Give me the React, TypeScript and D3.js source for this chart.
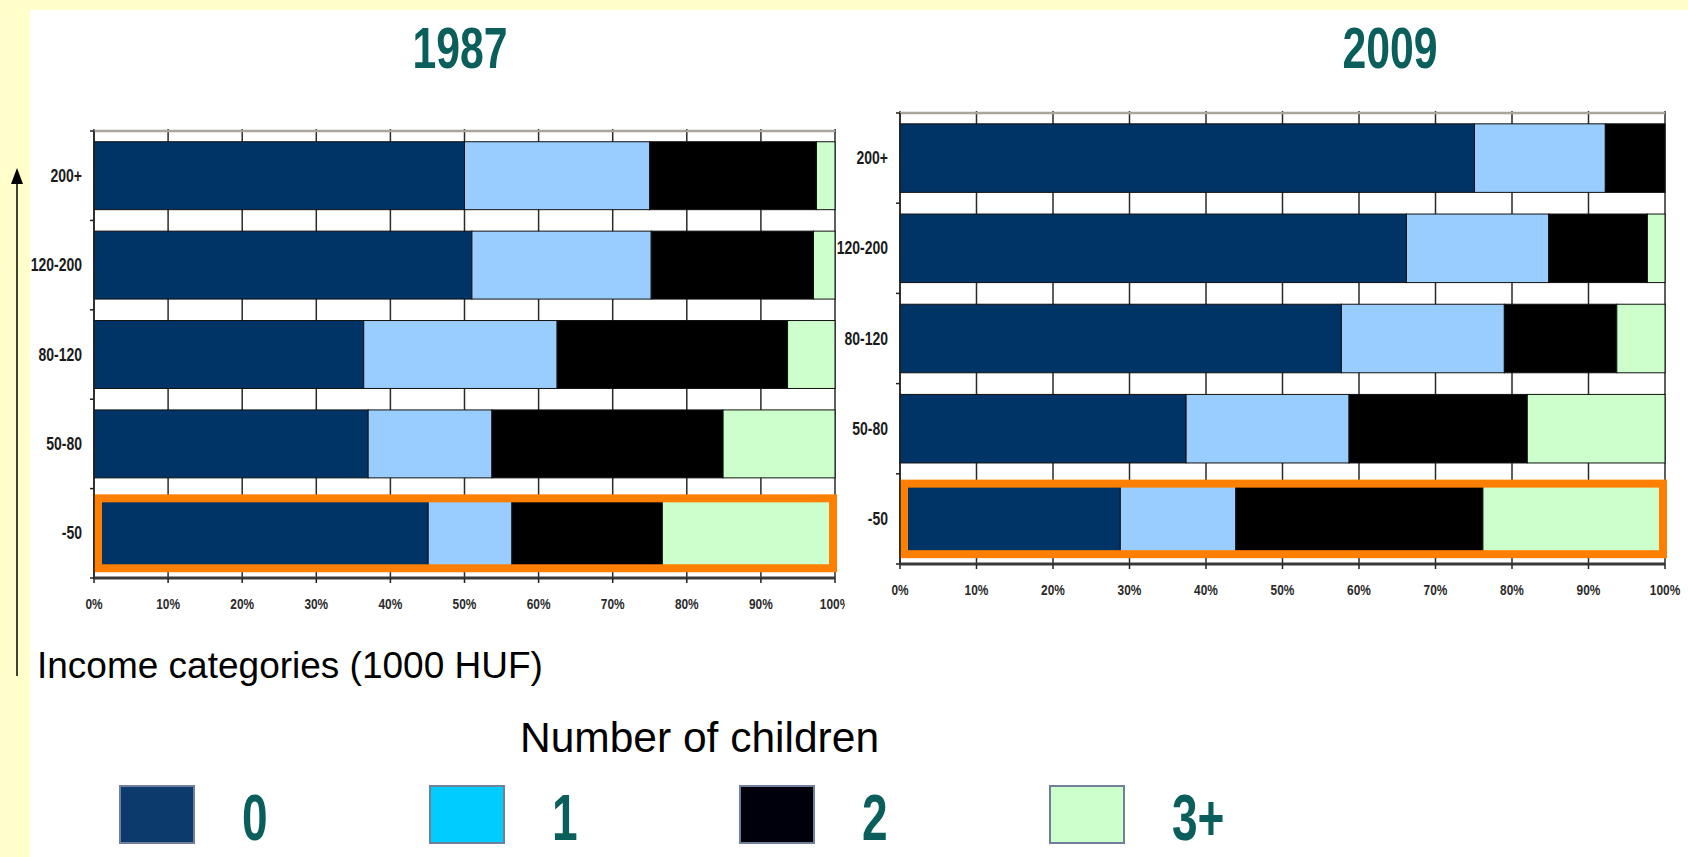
import * as d3 from "d3";

// Income categories (1000 HUF), top to bottom
const incomeCategories = ["200+", "120-200", "80-120", "50-80", "-50"];
// Number of children
const childGroups = ["0", "1", "2", "3+"];
const xTickValues = [0, 10, 20, 30, 40, 50, 60, 70, 80, 90, 100];

// Share of households (%) by number of children, 1987
const share1987_0 = [50, 51, 36.4, 37, 45.1];
const share1987_1 = [25, 24.2, 26.1, 16.7, 11.3];
const share1987_2 = [22.5, 21.9, 31.1, 31.2, 20.3];
const share1987_3 = [2.5, 2.9, 6.4, 15.1, 23.3];

// Share of households (%) by number of children, 2009
const share2009_0 = [75.1, 66.2, 57.7, 37.4, 28.8];
const share2009_1 = [17.1, 18.6, 21.3, 21.3, 15.1];
const share2009_2 = [7.8, 12.9, 14.7, 23.3, 32.3];
const share2009_3 = [0, 2.3, 6.3, 18, 23.8];

const highlighted = "-50";

const barColors = ["#003366", "#99ccff", "#000000", "#ccffcc"];
const legendColors = ["#0d3a6c", "#00ccff", "#00000c", "#ccffcc"];
const TEAL = "#0a5f5c";
const FONT = "'Liberation Sans', Arial, sans-serif";

type Row = { cat: string; [k: string]: number | string };

function buildRows(series: number[][]): Row[] {
  return incomeCategories.map((cat, i) => {
    const r: Row = { cat };
    childGroups.forEach((g, j) => (r[g] = series[j][i]));
    return r;
  });
}

interface PanelProps {
  year: string;
  rows: Row[];
  left: number;
  right: number;
  top: number;
  bottom: number;
  titleX: number;
  maskLeft?: number;
}

function Panel({ year, rows, left, right, top, bottom, titleX, maskLeft }: PanelProps) {
  const x = d3.scaleLinear().domain([0, 100]).range([left, right]);
  const y = d3
    .scaleBand<string>()
    .domain(incomeCategories)
    .range([top, bottom])
    .paddingInner(0.24)
    .paddingOuter(0.12);
  const step = y.step();
  const bw = y.bandwidth();
  const stacked = d3.stack<Row>().keys(childGroups).value((d, k) => d[k] as number)(rows);
  const boundaries = d3.range(incomeCategories.length + 1).map((i) => top + i * step);
  const hy = y(highlighted)!;

  return (
    <g>
      {maskLeft !== undefined && (
        <rect x={maskLeft} y={top - 30} width={1688 - maskLeft} height={bottom - top + 80} fill="#ffffff" />
      )}
      {/* title */}
      <text
        transform={`translate(${titleX},68) scale(0.75,1)`}
        textAnchor="middle"
        fontFamily={FONT}
        fontWeight="bold"
        fontSize={57}
        fill={TEAL}
      >
        {year}
      </text>

      {/* vertical grid */}
      {xTickValues.map((t) => (
        <line key={`g-${t}`} x1={x(t)} x2={x(t)} y1={top - 2} y2={bottom} stroke="#2a2a2a" strokeWidth={1.5} />
      ))}
      {/* top border */}
      <line x1={left} x2={right} y1={top} y2={top} stroke="#a9a49c" strokeWidth={2.5} />

      {/* bars */}
      {stacked.map((s, si) =>
        s.map((d, i) => (
          <rect
            key={`b-${si}-${i}`}
            x={x(d[0])}
            y={y(d.data.cat as string)!}
            width={Math.max(0, x(d[1]) - x(d[0]))}
            height={bw}
            fill={barColors[si]}
            stroke={x(d[1]) - x(d[0]) > 0.5 ? "#111" : "none"}
            strokeWidth={1}
          />
        ))
      )}

      {/* highlight box */}
      <rect
        x={x(0) + 4}
        y={hy - 1}
        width={x(100) - x(0) - 6}
        height={bw + 2}
        fill="none"
        stroke="#ff8000"
        strokeWidth={8}
      />

      {/* left axis */}
      <line x1={left} x2={left} y1={top} y2={bottom} stroke="#222" strokeWidth={1.5} />
      {boundaries.map((b, i) => (
        <line key={`lt-${i}`} x1={left - 4} x2={left} y1={b} y2={b} stroke="#222" strokeWidth={1.5} />
      ))}
      {incomeCategories.map((c) => (
        <text
          key={`yl-${c}`}
          transform={`translate(${left - 12},${y(c)! + bw / 2 + 6}) scale(0.8,1)`}
          textAnchor="end"
          fontFamily={FONT}
          fontWeight="bold"
          fontSize={17.5}
          fill="#1a1a1a"
        >
          {c}
        </text>
      ))}

      {/* bottom axis */}
      <line x1={left} x2={right} y1={bottom} y2={bottom} stroke="#3a3a3a" strokeWidth={3} />
      {xTickValues.map((t) => (
        <g key={`xt-${t}`}>
          <line x1={x(t)} x2={x(t)} y1={bottom} y2={bottom + 5} stroke="#222" strokeWidth={1.5} />
          <text
            transform={`translate(${x(t)},${bottom + 31}) scale(0.82,1)`}
            textAnchor="middle"
            fontFamily={FONT}
            fontWeight="bold"
            fontSize={14.5}
            fill="#2a2a2a"
          >
            {`${t}%`}
          </text>
        </g>
      ))}
    </g>
  );
}

export default function App() {
  const rows1987 = buildRows([share1987_0, share1987_1, share1987_2, share1987_3]);
  const rows2009 = buildRows([share2009_0, share2009_1, share2009_2, share2009_3]);

  const legendX = d3.scalePoint<string>().domain(childGroups).range([120, 1050]);

  return (
    <svg width={1688} height={857} style={{ position: "absolute", left: 0, top: 0 }}>
      <rect x={0} y={0} width={1688} height={857} fill="#ffffff" />
      <rect x={0} y={0} width={30} height={857} fill="#ffffcc" />
      <rect x={0} y={0} width={1688} height={10} fill="#ffffcc" />

      {/* y direction arrow */}
      <line x1={17} x2={17} y1={676} y2={180} stroke="#000" strokeWidth={1.5} />
      <path d="M17,168 L11,184 L23,184 Z" fill="#000" />

      <Panel year="1987" rows={rows1987} left={94} right={835} top={131} bottom={578} titleX={460} />
      <Panel year="2009" rows={rows2009} left={900} right={1665} top={113} bottom={564} titleX={1390} maskLeft={845} />

      <text x={37} y={678} fontFamily={FONT} fontSize={37} fill="#000">
        Income categories (1000 HUF)
      </text>
      <text x={520} y={752} fontFamily={FONT} fontSize={42.5} fill="#000">
        Number of children
      </text>

      {childGroups.map((g, i) => (
        <g key={`lg-${g}`}>
          <rect
            x={legendX(g)!}
            y={786}
            width={74}
            height={57}
            fill={legendColors[i]}
            stroke="#6f7f9c"
            strokeWidth={2}
          />
          <text
            transform={`translate(${legendX(g)! + 122},840) scale(0.72,1)`}
            fontFamily={FONT}
            fontWeight="bold"
            fontSize={64}
            fill={TEAL}
          >
            {g}
          </text>
        </g>
      ))}
    </svg>
  );
}
